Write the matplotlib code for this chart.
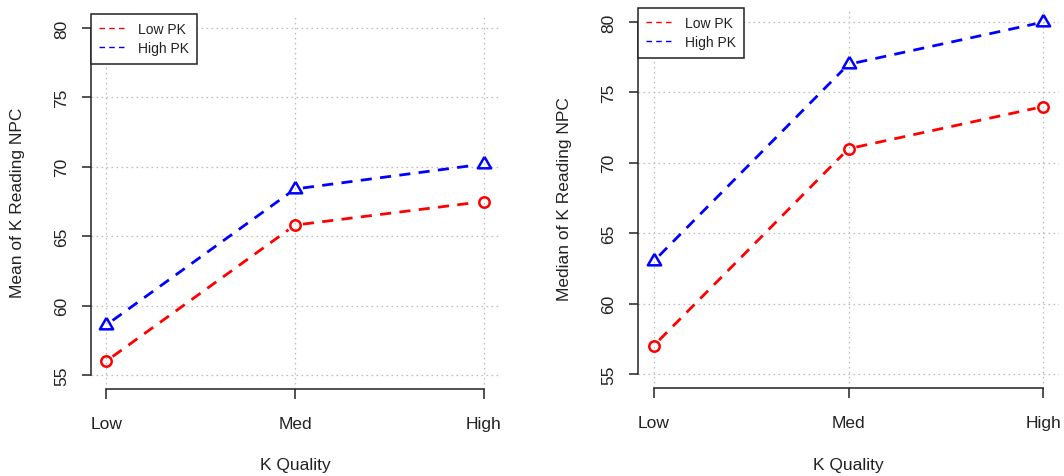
import numpy as np
import matplotlib.pyplot as plt

plt.rcParams['font.family'] = ['Liberation Sans', 'DejaVu Sans']

# ------- data -------
quality = ['Low', 'Med', 'High']
mean_low_pk = [56.0, 65.8, 67.5]
mean_high_pk = [58.6, 68.4, 70.2]
median_low_pk = [57, 71, 74]
median_high_pk = [63, 77, 80]
y_ticks = [55, 60, 65, 70, 75, 80]
series_names = ['Low PK', 'High PK']

W, H = 1064, 477
fig = plt.figure(figsize=(W / 100, H / 100), dpi=100)

# R style triangle (pch = 2), centred on its centroid
tri = [(0, 1), (-0.866, -0.5), (0.866, -0.5), (0, 1)]
dash = (0, (4.0, 3.0))


def px_axes(x0, y0, x1, y1):
    # axes box from pixel corners (top-left origin)
    return fig.add_axes([x0 / W, 1 - y1 / H, (x1 - x0) / W, (y1 - y0) / H])


def gapped_line(ax, x, y, gap, **kw):
    # like type = "b": segments stop short of the points
    pts = ax.transData.transform(np.column_stack([x, y]))
    inv = ax.transData.inverted()
    for p0, p1 in zip(pts[:-1], pts[1:]):
        d = p1 - p0
        u = d / np.hypot(*d)
        seg = inv.transform([p0 + u * gap, p1 - u * gap])
        ax.plot(seg[:, 0], seg[:, 1], **kw)


def draw_panel(ax, low, high, ylabel, ylab_x):
    x = np.arange(1, len(quality) + 1)
    ax.set_xlim(0.92, 3.08)
    ax.set_ylim(54, 81)

    gapped_line(ax, x, low, 8, color='red', lw=2.0, linestyle=dash)
    gapped_line(ax, x, high, 8, color='blue', lw=2.0, linestyle=dash)
    ax.plot(x, low, linestyle='none', marker='o', ms=7.5,
            mfc='none', mec='red', mew=1.8)
    ax.plot(x, high, linestyle='none', marker=tri, ms=11,
            mfc='none', mec='blue', mew=1.8)

    ax.set_xticks(x)
    ax.set_xticklabels(quality)
    ax.set_yticks(y_ticks)
    ax.grid(True, color='#bdbdbd', linestyle=(0, (1.3, 2.7)), lw=0.9)
    ax.set_axisbelow(True)

    for s in ['top', 'right']:
        ax.spines[s].set_visible(False)
    ax.spines['left'].set_bounds(55, 80)
    ax.spines['bottom'].set_bounds(1, 3)
    for s in ['left', 'bottom']:
        ax.spines[s].set_color('#222222')
        ax.spines[s].set_linewidth(1.1)

    ax.tick_params(axis='x', length=7.2, width=1.1, color='#222222', labelsize=12.5, pad=12,
                   labelcolor='#222222')
    ax.tick_params(axis='y', length=6.5, width=1.1, color='#222222', labelsize=12.5, pad=9,
                   labelcolor='#222222')
    for lab in ax.get_yticklabels():
        lab.set_rotation(90)
        lab.set_va('center')

    handles = [plt.Line2D([], [], color='red', lw=1.0, linestyle=dash),
               plt.Line2D([], [], color='blue', lw=1.0, linestyle=dash)]
    leg = ax.legend(handles, series_names, loc='upper left', bbox_to_anchor=(0, 1),
                    borderaxespad=0, fontsize=10, fancybox=False, framealpha=1,
                    edgecolor='#222222', handlelength=1.9, handletextpad=0.85,
                    borderpad=0.6, labelspacing=0.35)
    leg.get_frame().set_linewidth(1.1)
    for t in leg.get_texts():
        t.set_color('#222222')

    bb = ax.get_position()
    fig.text(bb.x0 + bb.width / 2, 1 - 466 / H, 'K Quality', ha='center', va='center',
             fontsize=12.5, color='#222222')
    fig.text(ylab_x / W, bb.y0 + bb.height / 2, ylabel, rotation=90,
             ha='center', va='center', fontsize=12.5, color='#222222')


ax1 = px_axes(91, 15, 499, 390)
draw_panel(ax1, mean_low_pk, mean_high_pk, 'Mean of K Reading NPC', 18)

ax2 = px_axes(638, 9, 1059, 389)
draw_panel(ax2, median_low_pk, median_high_pk, 'Median of K Reading NPC', 565)

fig.savefig('out.png', dpi=100)
